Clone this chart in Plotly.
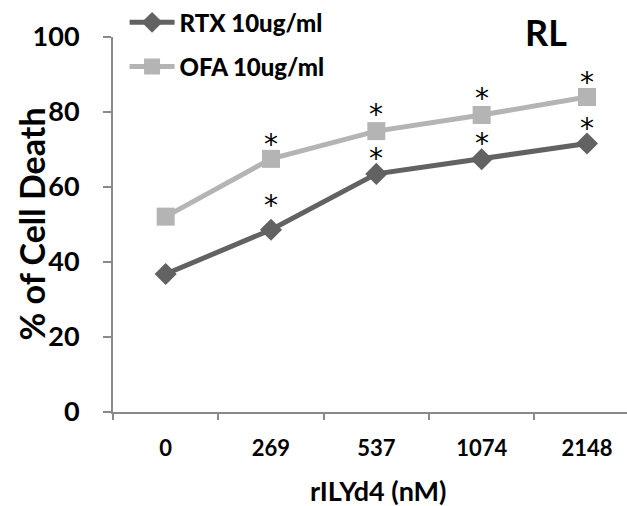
import plotly.graph_objects as go

# rILYd4 concentrations (nM) and % cell death for each antibody
concentrations = ["0", "269", "537", "1074", "2148"]
rtx_death = [36.8, 48.6, 63.5, 67.4, 71.6]
ofa_death = [52.1, 67.5, 74.9, 79.2, 84.0]
rtx_signif = ["", "*", "*", "*", "*"]
ofa_signif = ["", "*", "*", "*", "*"]

FONT = "Lato"
STAR_FONT = "DejaVu Sans"
AXIS_COLOR = "#8a8a8a"
RTX_COLOR = "#626262"
OFA_COLOR = "#b4b4b4"

fig = go.Figure()

fig.add_trace(go.Scatter(
    x=concentrations, y=rtx_death, name="RTX 10ug/ml",
    mode="lines+markers",
    line=dict(color=RTX_COLOR, width=5),
    marker=dict(symbol="diamond", size=17, color=RTX_COLOR),
    legendgroup="rtx",
))
fig.add_trace(go.Scatter(
    x=concentrations, y=ofa_death, name="OFA 10ug/ml",
    mode="lines+markers",
    line=dict(color=OFA_COLOR, width=5),
    marker=dict(symbol="square", size=18, color=OFA_COLOR),
    legendgroup="ofa",
))

# significance asterisks above the points (RTX at 269 nM sits a little higher)
rtx_star_shift = [0, 24, 15, 16, 15]
ofa_star_shift = [0, 14, 17, 17, 15]
for ys, marks, shifts in ((rtx_death, rtx_signif, rtx_star_shift),
                          (ofa_death, ofa_signif, ofa_star_shift)):
    for i, (y, m, s) in enumerate(zip(ys, marks, shifts)):
        if m:
            fig.add_annotation(x=i, y=y, text=m, showarrow=False, yshift=s,
                               yanchor="middle",
                               font=dict(family=STAR_FONT, size=28, color="black"))

fig.add_annotation(xref="paper", yref="paper", x=0.842, y=1.013, text="<b>RL</b>",
                   showarrow=False, xanchor="center", yanchor="middle",
                   font=dict(family=FONT, size=36, color="black"))

fig.add_annotation(xref="paper", yref="paper", x=-0.1595, y=0.5,
                   text="<b>% of Cell Death</b>", textangle=-90, showarrow=False,
                   xanchor="center", yanchor="middle",
                   font=dict(family=FONT, size=34, color="black"))
fig.add_annotation(xref="paper", yref="paper", x=0.5156, y=-0.209,
                   text="<b>rILYd4 (nM)</b>", showarrow=False,
                   xanchor="center", yanchor="middle",
                   font=dict(family=FONT, size=27, color="black"))

fig.update_layout(
    width=627, height=506,
    margin=dict(l=113, r=0, t=34, b=94),
    plot_bgcolor="white", paper_bgcolor="white",
    showlegend=True,
    legend=dict(x=0.0225, y=1.098, xanchor="left", yanchor="top",
                bgcolor="rgba(0,0,0,0)", tracegroupgap=10, itemwidth=45,
                font=dict(family=FONT, size=24, color="black", weight=900)),
    font=dict(family=FONT, color="black"),
)

fig.update_xaxes(
    type="category", range=[-0.5, 4.38],
    showline=True, linecolor=AXIS_COLOR, linewidth=2,
    ticks="outside", tickson="boundaries", ticklen=6, tickcolor=AXIS_COLOR, tickwidth=2,
    tickfont=dict(family=FONT, size=22, color="black", weight="bold"),
    ticklabelstandoff=16,
    showgrid=False, zeroline=False,
)
fig.update_yaxes(
    range=[0, 100], tickvals=[0, 20, 40, 60, 80, 100],
    showline=True, linecolor=AXIS_COLOR, linewidth=2,
    ticks="outside", ticklen=8, tickcolor=AXIS_COLOR, tickwidth=2,
    tickfont=dict(family=FONT, size=27, color="black", weight="bold"),
    ticklabelstandoff=18,
    showgrid=False, zeroline=False,
)

fig.write_html("out.html")
